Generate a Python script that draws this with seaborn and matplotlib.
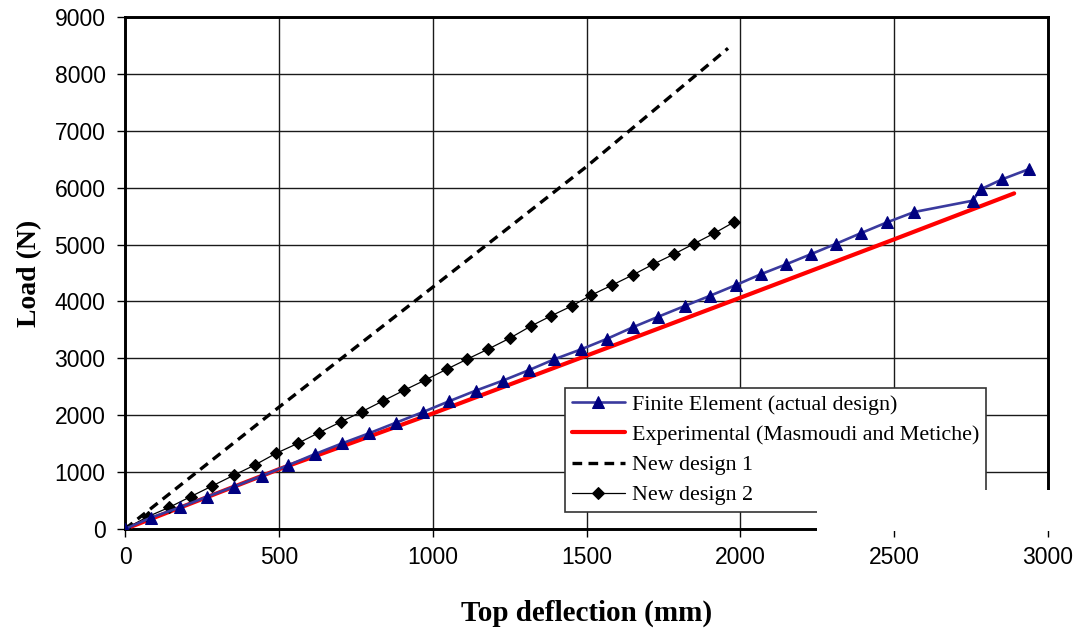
import matplotlib
matplotlib.use("Agg")
import matplotlib.pyplot as plt
import seaborn as sns
from matplotlib.patches import Rectangle

# ---- data ----
fe_x = [0, 84, 179, 267, 354, 444, 530, 618, 706, 793, 881, 969, 1053, 1140, 1228, 1314,
        1395, 1483, 1568, 1650, 1734, 1819, 1902, 1986, 2066, 2149, 2231, 2312, 2393,
        2477, 2565, 2755, 2781, 2851, 2939]
fe_y = [0, 199, 381, 568, 744, 932, 1119, 1318, 1506, 1682, 1869, 2057, 2245, 2432, 2608,
        2795, 2983, 3159, 3346, 3545, 3733, 3920, 4101, 4289, 4477, 4653, 4834, 5016, 5203,
        5391, 5572, 5771, 5971, 6147, 6328]

exp_x = [0, 500, 1000, 1500, 2000, 2500, 2890]
exp_y = [0, 1050, 2030, 3047, 4066, 5092, 5900]

nd1_x = [0, 500, 1000, 1500, 1960]
nd1_y = [0, 2140, 4250, 6370, 8450]

nd2_x = [0, 74, 144, 213, 283, 353, 422, 491, 562, 630, 701, 770, 838, 907, 976, 1045,
         1113, 1181, 1250, 1318, 1384, 1454, 1514, 1584, 1652, 1716, 1783, 1850, 1915, 1978]
nd2_y = [0, 217, 381, 568, 756, 943, 1125, 1330, 1506, 1693, 1881, 2063, 2250, 2438, 2619,
         2807, 2988, 3164, 3352, 3563, 3744, 3925, 4107, 4289, 4470, 4652, 4828, 5016, 5198,
         5391]

labels = ["Finite Element (actual design)", "Experimental (Masmoudi and Metiche)",
          "New design 1", "New design 2"]
x_ticks = [0, 500, 1000, 1500, 2000, 2500, 3000]
y_ticks = [0, 1000, 2000, 3000, 4000, 5000, 6000, 7000, 8000, 9000]

sns.set_theme(style="white")
plt.rcParams['font.family'] = ['Liberation Sans', 'DejaVu Sans']

fig = plt.figure(figsize=(10.77, 6.29), dpi=100)
ax = fig.add_axes([125/1077, 100/629, 923/1077, 512/629])

sns.lineplot(x=fe_x, y=fe_y, ax=ax, color="#3A3A9E", linewidth=1.9, marker="^",
             markersize=8.5, markerfacecolor="#000080", markeredgecolor="#000080",
             label=labels[0], sort=False, zorder=4)
sns.lineplot(x=exp_x, y=exp_y, ax=ax, color="#FF0000", linewidth=3.0,
             label=labels[1], sort=False, zorder=3)
sns.lineplot(x=nd1_x, y=nd1_y, ax=ax, color="black", linewidth=2.4,
             linestyle=(0, (2.9, 1.9)), label=labels[2], sort=False, zorder=3)
sns.lineplot(x=nd2_x, y=nd2_y, ax=ax, color="black", linewidth=0.9, marker="D",
             markersize=6.3, markerfacecolor="black", markeredgecolor="black",
             label=labels[3], sort=False, zorder=3)

ax.set_xlim(0, 3000)
ax.set_ylim(0, 9000)
ax.set_xticks(x_ticks)
ax.set_yticks(y_ticks)
ax.grid(True, color="#1a1a1a", linewidth=1.0)
ax.set_axisbelow(True)
for s in ax.spines.values():
    s.set_visible(True)
    s.set_color("black")
    s.set_linewidth(2.1)
ax.tick_params(axis="both", which="major", direction="out", length=6, width=1.0,
               color="black", labelsize=16.5, labelcolor="black", pad=6,
               bottom=True, left=True)
ax.tick_params(axis="y", pad=8)
for t in ax.get_xticklabels() + ax.get_yticklabels():
    t.set_fontfamily(["Liberation Sans", "DejaVu Sans"])

ax.set_xlabel("Top deflection (mm)", fontsize=21, fontweight="bold",
              fontfamily=["Liberation Serif", "DejaVu Serif"], color="black", labelpad=22)
ax.set_ylabel("Load (N)", fontsize=20, fontweight="bold",
              fontfamily=["Liberation Serif", "DejaVu Serif"], color="black", labelpad=9)

leg = ax.legend(loc="lower left", bbox_to_anchor=((565-125)/923, (529-512)/512),
                borderaxespad=0, frameon=True, fancybox=False, shadow=False,
                prop={"family": ["Liberation Serif", "DejaVu Serif"], "size": 15.8},
                handlelength=2.45, handletextpad=0.3, labelspacing=0.45,
                borderpad=0.3, numpoints=1)
for txt in leg.get_texts():
    txt.set_color("black")
leg.get_frame().set_edgecolor("#333333")
leg.get_frame().set_linewidth(1.2)
leg.get_frame().set_facecolor("white")
leg.get_frame().set_alpha(1.0)
leg.set_zorder(6)

# white patch that hides the lower-right corner of the frame, as in the reference
fig.add_artist(Rectangle((817/1077, (629-531)/629), (1077-817)/1077, 41/629,
                         transform=fig.transFigure, facecolor="white",
                         edgecolor="none", zorder=10))

fig.savefig("out.png", dpi=100)
